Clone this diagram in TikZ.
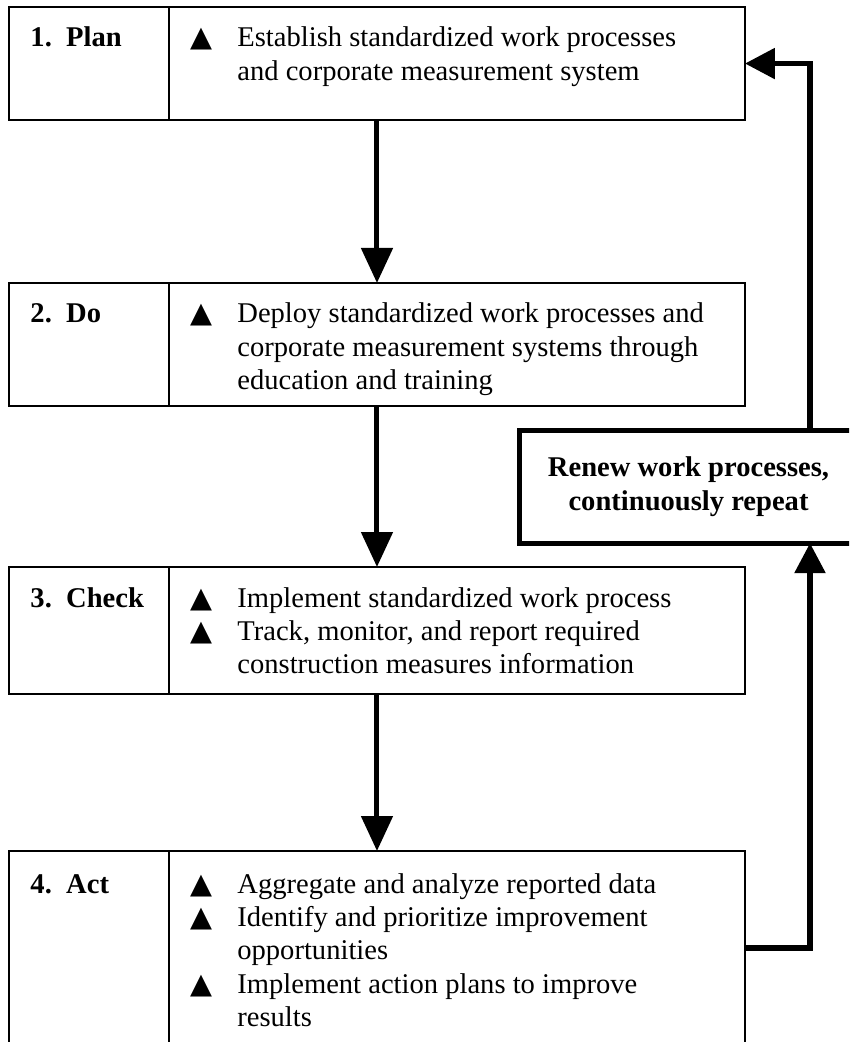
\documentclass[tikz,border=0pt]{standalone}
\usepackage{fontspec}
\setmainfont{Liberation Serif}
\newfontfamily\symfont{DejaVu Sans}
\usetikzlibrary{arrows.meta,calc}

\newcommand{\tri}{\makebox[19.7pt][l]{\symfont\fontsize{12pt}{12pt}\selectfont ▲}}
\newcommand{\ind}{\hspace*{19.7pt}}

\tikzset{
  stepbox/.style={draw, line width=0.85pt, anchor=north west, outer sep=0pt,
    minimum width=309.1pt, inner sep=0pt},
  numtxt/.style={anchor=base west, inner sep=0pt, font=\fontsize{12pt}{14pt}\selectfont\bfseries},
  itemtxt/.style={anchor=base west, inner sep=0pt, font=\fontsize{12pt}{14pt}\selectfont},
  renewbox/.style={draw, line width=2.1pt, anchor=north west, outer sep=0pt,
    minimum width=142.4pt, minimum height=47.5pt, inner sep=0pt, align=center,
    font=\fontsize{12pt}{14pt}\selectfont\bfseries},
  flow/.style={line width=2.1pt, -{Triangle[length=14.7pt,width=13pt]}},
  back/.style={line width=2.3pt, -{Triangle[length=12.6pt,width=12.6pt]}}
}

\begin{document}
\begin{tikzpicture}[x=0.42pt,y=-0.42pt]
        \useasboundingbox (0,0) rectangle (849,1042);
        \clip (0,0) rectangle (849,1042);

        % caselle dei passi
        \node[stepbox, minimum height=47.5pt] (plan) at (9,7) {};
        \node[stepbox, minimum height=51.7pt] (do) at (9,283) {};
        \node[stepbox, minimum height=53.3pt] (check) at (9,567) {};
        \node[stepbox, minimum height=81.5pt] (act) at (9,851) {};

        % divisori
        \foreach \b in {plan,do,check,act}
            \draw[line width=0.85pt] ($(\b.north west)+(160,0)$)--($(\b.south west)+(160,0)$);

        % titoli
        \node[numtxt] (plannum) at ($(plan.north west)+(21,40)$) {1.\ \ Plan};
        \node[numtxt] (donum) at ($(do.north west)+(21,40)$) {2.\ \ Do};
        \node[numtxt] (checknum) at ($(check.north west)+(21,40)$) {3.\ \ Check};
        \node[numtxt] (actnum) at ($(act.north west)+(21,42)$) {4.\ \ Act};

        % elenchi
        \node[itemtxt] (plantxt) at ($(plan.north west)+(181,40)$)
            {\begin{tabular}[t]{@{}l@{}}\tri Establish standardized work processes\\\ind and corporate measurement system\end{tabular}};
        \node[itemtxt] (dotxt) at ($(do.north west)+(181,40)$)
            {\begin{tabular}[t]{@{}l@{}}\tri Deploy standardized work processes and\\\ind corporate measurement systems through\\\ind education and training\end{tabular}};
        \node[itemtxt] (checktxt) at ($(check.north west)+(181,40)$)
            {\begin{tabular}[t]{@{}l@{}}\tri Implement standardized work process\\\tri Track, monitor, and report required\\\ind construction measures information\end{tabular}};
        \node[itemtxt] (acttxt) at ($(act.north west)+(181,42)$)
            {\begin{tabular}[t]{@{}l@{}}\tri Aggregate and analyze reported data\\\tri Identify and prioritize improvement\\\ind opportunities\\\tri Implement action plans to improve\\\ind results\end{tabular}};

        % rinnovo
        \node[renewbox] (renew) at (519,430) {Renew work processes,\\continuously repeat};

        % frecce
        \draw[flow] (plan.south)--(do.north);
        \draw[flow] (do.south)--(check.north);
        \draw[flow] (check.south)--(act.north);

        % ritorno
        \coordinate (loopx) at (810,0);
        \draw[back] (act.east) -| (renew.south -| loopx);
        \draw[back] (renew.north -| loopx) |- (plan.east);
\end{tikzpicture}
\end{document}
